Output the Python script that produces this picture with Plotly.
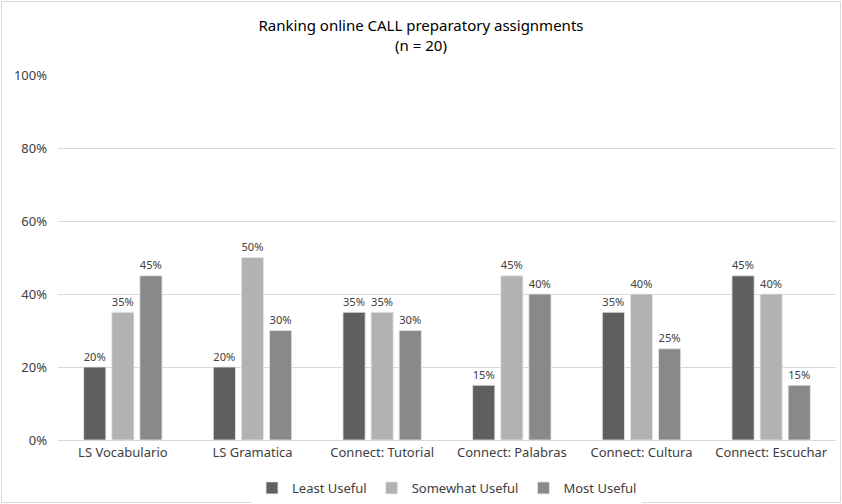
import plotly.graph_objects as go

categories = ["LS Vocabulario", "LS Gramatica", "Connect: Tutorial", "Connect: Palabras", "Connect: Cultura", "Connect: Escuchar"]
least_useful = [0.20, 0.20, 0.35, 0.15, 0.35, 0.45]
somewhat_useful = [0.35, 0.50, 0.35, 0.45, 0.40, 0.40]
most_useful = [0.45, 0.30, 0.30, 0.40, 0.25, 0.15]
series_names = ["Least Useful", "Somewhat Useful", "Most Useful"]
colors = ["#5f5f5f", "#b2b2b2", "#898989"]

W, H = 842, 504
ml, mr, mt, mb = 58, 6, 75, 64
font = "Noto Sans"

fig = go.Figure()
for name, vals, c in zip(series_names, [least_useful, somewhat_useful, most_useful], colors):
    fig.add_trace(go.Bar(
        x=categories, y=vals, name=name,
        marker=dict(color=c, line=dict(color="#e8e8e8", width=0.8)),
        text=[f"{round(v*100)}%" for v in vals], textposition="outside",
        textfont=dict(size=13, color="#404040", family=font),
        cliponaxis=False,
    ))

pw = W - ml - mr
ph = H - mt - mb
fig.update_layout(
    width=W, height=H,
    margin=dict(l=ml, r=mr, t=mt, b=mb, autoexpand=False),
    paper_bgcolor="white", plot_bgcolor="white",
    barmode="group", bargap=0.35, bargroupgap=0.21,
    title=dict(text="Ranking online CALL preparatory assignments<br>(n = 20)",
               x=0.5, xanchor="center", y=1 - 31 / H, yanchor="middle",
               font=dict(size=15, color="#000000", family=font)),
    font=dict(family=font, size=13, color="#404040"),
    legend=dict(orientation="h", x=0.5, xanchor="center", y=-(488 - 440) / ph, yanchor="middle",
                font=dict(size=13, color="#404040"), itemwidth=30, traceorder="normal"),
    yaxis=dict(range=[0, 1], dtick=0.2, tickformat=".0%", gridcolor="#d9d9d9",
               gridwidth=1, zeroline=False, showline=False, ticks="", automargin=False,
               tickfont=dict(size=13, color="#404040"), ticklabelstandoff=10),
    xaxis=dict(showline=True, linecolor="#d9d9d9", linewidth=1, ticks="", automargin=False,
               tickfont=dict(size=13, color="#404040")),
    shapes=[dict(type="rect", xref="paper", yref="paper",
                 x0=-(ml - 1.5) / pw, x1=1 + (mr - 1.5) / pw,
                 y0=-(mb - 1.5) / ph, y1=1 + (mt - 1.5) / ph,
                 line=dict(color="#d9d9d9", width=1), layer="below")],
)

fig.write_html("out.html", config={"displayModeBar": False},
               post_script="document.body.style.margin='0';document.body.style.overflow='hidden';")
